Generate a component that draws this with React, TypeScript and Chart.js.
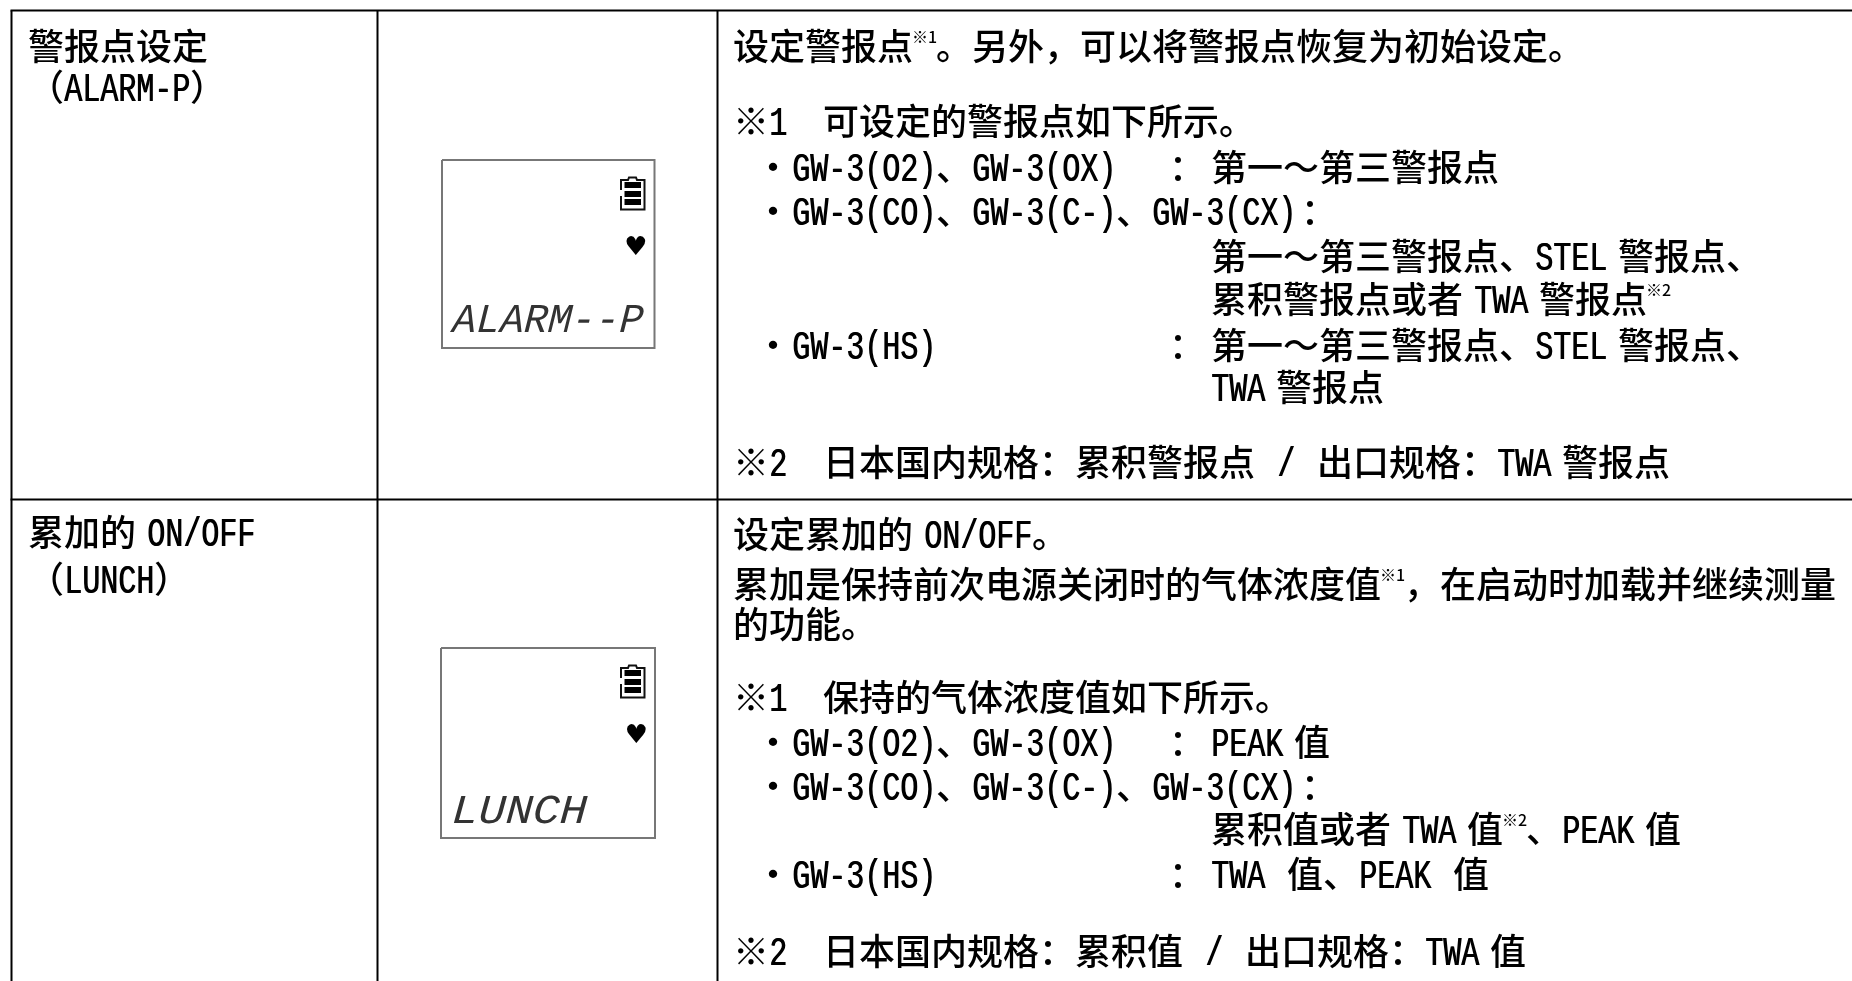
import React, { useEffect, useRef } from "react";
import { Chart, registerables } from "chart.js";

Chart.register(...registerables);

const WIDTH = 1852;
const HEIGHT = 981;

// Table text: {…} marks a superscript, spaces are narrow
const textLines = [
  "警报点设定",
  "（ALARM-P）",
  "累加的 ON/OFF",
  "（LUNCH）",
  "设定警报点{※1}。另外，可以将警报点恢复为初始设定。",
  "※1　可设定的警报点如下所示。",
  "・",
  "GW-3(O2)、GW-3(OX)",
  "：",
  "第一～第三警报点",
  "・",
  "GW-3(CO)、GW-3(C-)、GW-3(CX)",
  "：",
  "第一～第三警报点、STEL 警报点、",
  "累积警报点或者 TWA 警报点{※2}",
  "・",
  "GW-3(HS)",
  "：",
  "第一～第三警报点、STEL 警报点、",
  "TWA 警报点",
  "※2　日本国内规格：累积警报点  /  出口规格：TWA 警报点",
  "设定累加的 ON/OFF。",
  "累加是保持前次电源关闭时的气体浓度值{※1}，在启动时加载并继续测量",
  "的功能。",
  "※1　保持的气体浓度值如下所示。",
  "・",
  "GW-3(O2)、GW-3(OX)",
  "：",
  "PEAK 值",
  "・",
  "GW-3(CO)、GW-3(C-)、GW-3(CX)",
  "：",
  "累积值或者 TWA 值{※2}、PEAK 值",
  "・",
  "GW-3(HS)",
  "：",
  "TWA  值、PEAK  值",
  "※2　日本国内规格：累积值  /  出口规格：TWA 值",
];
const textX = [
  28, 28, 28, 28,
  733, 733, 755, 792, 1169, 1211, 755, 792, 1301, 1211, 1211, 755, 792, 1169, 1211, 1211, 733,
  733, 733, 733, 733, 755, 792, 1169, 1211, 755, 792, 1301, 1211, 755, 792, 1169, 1211, 733,
];
const textY = [
  47, 88, 533, 580,
  47, 122, 168, 168, 168, 168, 212, 212, 212, 257, 300, 346, 346, 346, 346, 388, 463,
  535, 585, 625, 698, 743, 743, 743, 743, 787, 787, 787, 830, 875, 875, 875, 875, 952,
];

// LCD screens
const lcdWords = ["ALARM--P", "LUNCH"];
const lcdWordX = [452, 451];
const lcdWordY = [332, 823];
const lcdWordStretch = [0.97, 1.1];
const heartX = [636, 636.5];
const heartY = [248.5, 736.5];

// Table rules
const ruleLeftX = [11.5, 11.5];
const ruleMidX = [377.5, 377.5];
const ruleRightX = [717.5, 717.5];
const ruleVerticalY = [10.5, 981];
const ruleHorizontalX = [10.5, 1852];
const ruleTopY = [10.5, 10.5];
const ruleRowY = [499.5, 499.5];

// LCD frames
const frameTopX = [442, 654.5, 654.5, 442, 442];
const frameTopY = [160, 160, 348, 348, 160];
const frameBottomX = [441, 655, 655, 441, 441];
const frameBottomY = [648, 648, 838, 838, 648];

// Battery icons
const batteryX = [621, 621, 628, 629, 636, 637, 644.5, 644.5, 621, 621];
const batteryTopY = [190, 180, 180, 177.5, 177.5, 180, 180, 209.5, 209.5, 196];
const batteryBottomY = [678, 668, 668, 665.5, 665.5, 668, 668, 697.5, 697.5, 684];
const cellX = [624.5, 641];
const cellTopY = [185, 194, 202];
const cellBottomY = [673, 682, 690];

const pairs = (xs: number[], ys: number[]) => xs.map((x, i) => ({ x, y: ys[i] }));

const line = (xs: number[], ys: number[], color: string, width: number) => ({
  type: "line" as const,
  data: pairs(xs, ys),
  borderColor: color,
  borderWidth: width,
  pointRadius: 0,
  tension: 0,
  fill: false,
  borderCapStyle: "butt" as const,
  borderJoinStyle: "miter" as const,
});

const FONT_SIZE = 36;
const WIDE = 36;
const HALF = 18;
const GAP = 11;
const CJK_FONT = `500 ${FONT_SIZE}px "Noto Sans CJK SC"`;
const LATIN_FONT = `${FONT_SIZE}px "Liberation Mono"`;
const LATIN_NATURAL = FONT_SIZE * 0.6;
const LATIN_TALL = 1.13;

function drawLatin(ctx: CanvasRenderingContext2D, s: string, x: number, y: number) {
  ctx.save();
  ctx.translate(x, y);
  ctx.scale(HALF / LATIN_NATURAL, LATIN_TALL);
  ctx.font = LATIN_FONT;
  ctx.shadowColor = "#000";
  ctx.shadowOffsetX = 0.7;
  ctx.fillText(s, 0, 0);
  ctx.restore();
}

function drawMixed(ctx: CanvasRenderingContext2D, s: string, x0: number, y: number) {
  const tokens = s.match(/\{[^}]*\}| +|[\x21-\x7e]+|[^\x20-\x7e]+/g) || [];
  let x = x0;
  for (const t of tokens) {
    if (t.startsWith("{")) {
      const sup = t.slice(1, -1);
      ctx.font = `500 16px "Noto Sans CJK SC"`;
      ctx.fillText(sup, x - 1, y - 17);
      x += 23;
    } else if (t[0] === " ") {
      x += GAP * t.length;
    } else if (/^[\x21-\x7e]/.test(t)) {
      drawLatin(ctx, t, x, y);
      x += t.length * HALF;
    } else {
      ctx.font = CJK_FONT;
      ctx.fillText(t, x, y);
      x += t.length * WIDE;
    }
  }
}

const textPlugin = {
  id: "tableText",
  afterDatasetsDraw(chart: any) {
    const { ctx, scales } = chart;
    const sx = scales.x;
    const sy = scales.y;
    ctx.save();
    ctx.fillStyle = "#000";
    ctx.textBaseline = "alphabetic";
    ctx.textAlign = "left";
    textLines.forEach((s, i) => {
      drawMixed(ctx, s, sx.getPixelForValue(textX[i]), sy.getPixelForValue(textY[i]) + 13);
    });
    ctx.fillStyle = "#333";
    lcdWords.forEach((w, i) => {
      ctx.save();
      ctx.translate(sx.getPixelForValue(lcdWordX[i]), sy.getPixelForValue(lcdWordY[i]));
      ctx.transform(lcdWordStretch[i], 0, -0.06, 1, 0, 0);
      ctx.font = `italic 41px "Liberation Mono"`;
      ctx.fillText(w, 0, 0);
      ctx.restore();
    });
    ctx.fillStyle = "#000";
    ctx.textAlign = "center";
    ctx.textBaseline = "middle";
    ctx.font = `26px "DejaVu Sans"`;
    heartX.forEach((x, i) => {
      ctx.fillText("♥", sx.getPixelForValue(x), sy.getPixelForValue(heartY[i]));
    });
    ctx.restore();
  },
};

export default function App() {
  const ref = useRef<HTMLCanvasElement>(null);
  useEffect(() => {
    document.body.style.margin = "0";
    document.body.style.background = "#fff";
    const cells = [...cellTopY, ...cellBottomY].map((y) =>
      line(cellX, [y, y], "#000", 6)
    );
    const chart = new Chart(ref.current as HTMLCanvasElement, {
      type: "scatter",
      data: {
        datasets: [
          line(ruleLeftX, ruleVerticalY, "#000", 2),
          line(ruleMidX, ruleVerticalY, "#000", 2),
          line(ruleRightX, ruleVerticalY, "#000", 2),
          line(ruleHorizontalX, ruleTopY, "#000", 2),
          line(ruleHorizontalX, ruleRowY, "#000", 2),
          line(frameTopX, frameTopY, "#777", 2),
          line(frameBottomX, frameBottomY, "#777", 2),
          line(batteryX, batteryTopY, "#111", 2),
          line(batteryX, batteryBottomY, "#111", 2),
          ...cells,
        ] as any,
      },
      options: {
        animation: false,
        responsive: false,
        layout: { padding: 0 },
        plugins: { legend: { display: false }, tooltip: { enabled: false } },
        scales: {
          x: { type: "linear", display: false, min: 0, max: WIDTH },
          y: { type: "linear", display: false, min: 0, max: HEIGHT, reverse: true },
        },
      },
      plugins: [textPlugin],
    });
    return () => chart.destroy();
  }, []);
  return (
    <div style={{ position: "absolute", left: 0, top: 0, width: WIDTH, height: HEIGHT, overflow: "hidden", background: "#fff" }}>
      <canvas ref={ref} width={WIDTH} height={HEIGHT} style={{ display: "block" }} />
    </div>
  );
}
